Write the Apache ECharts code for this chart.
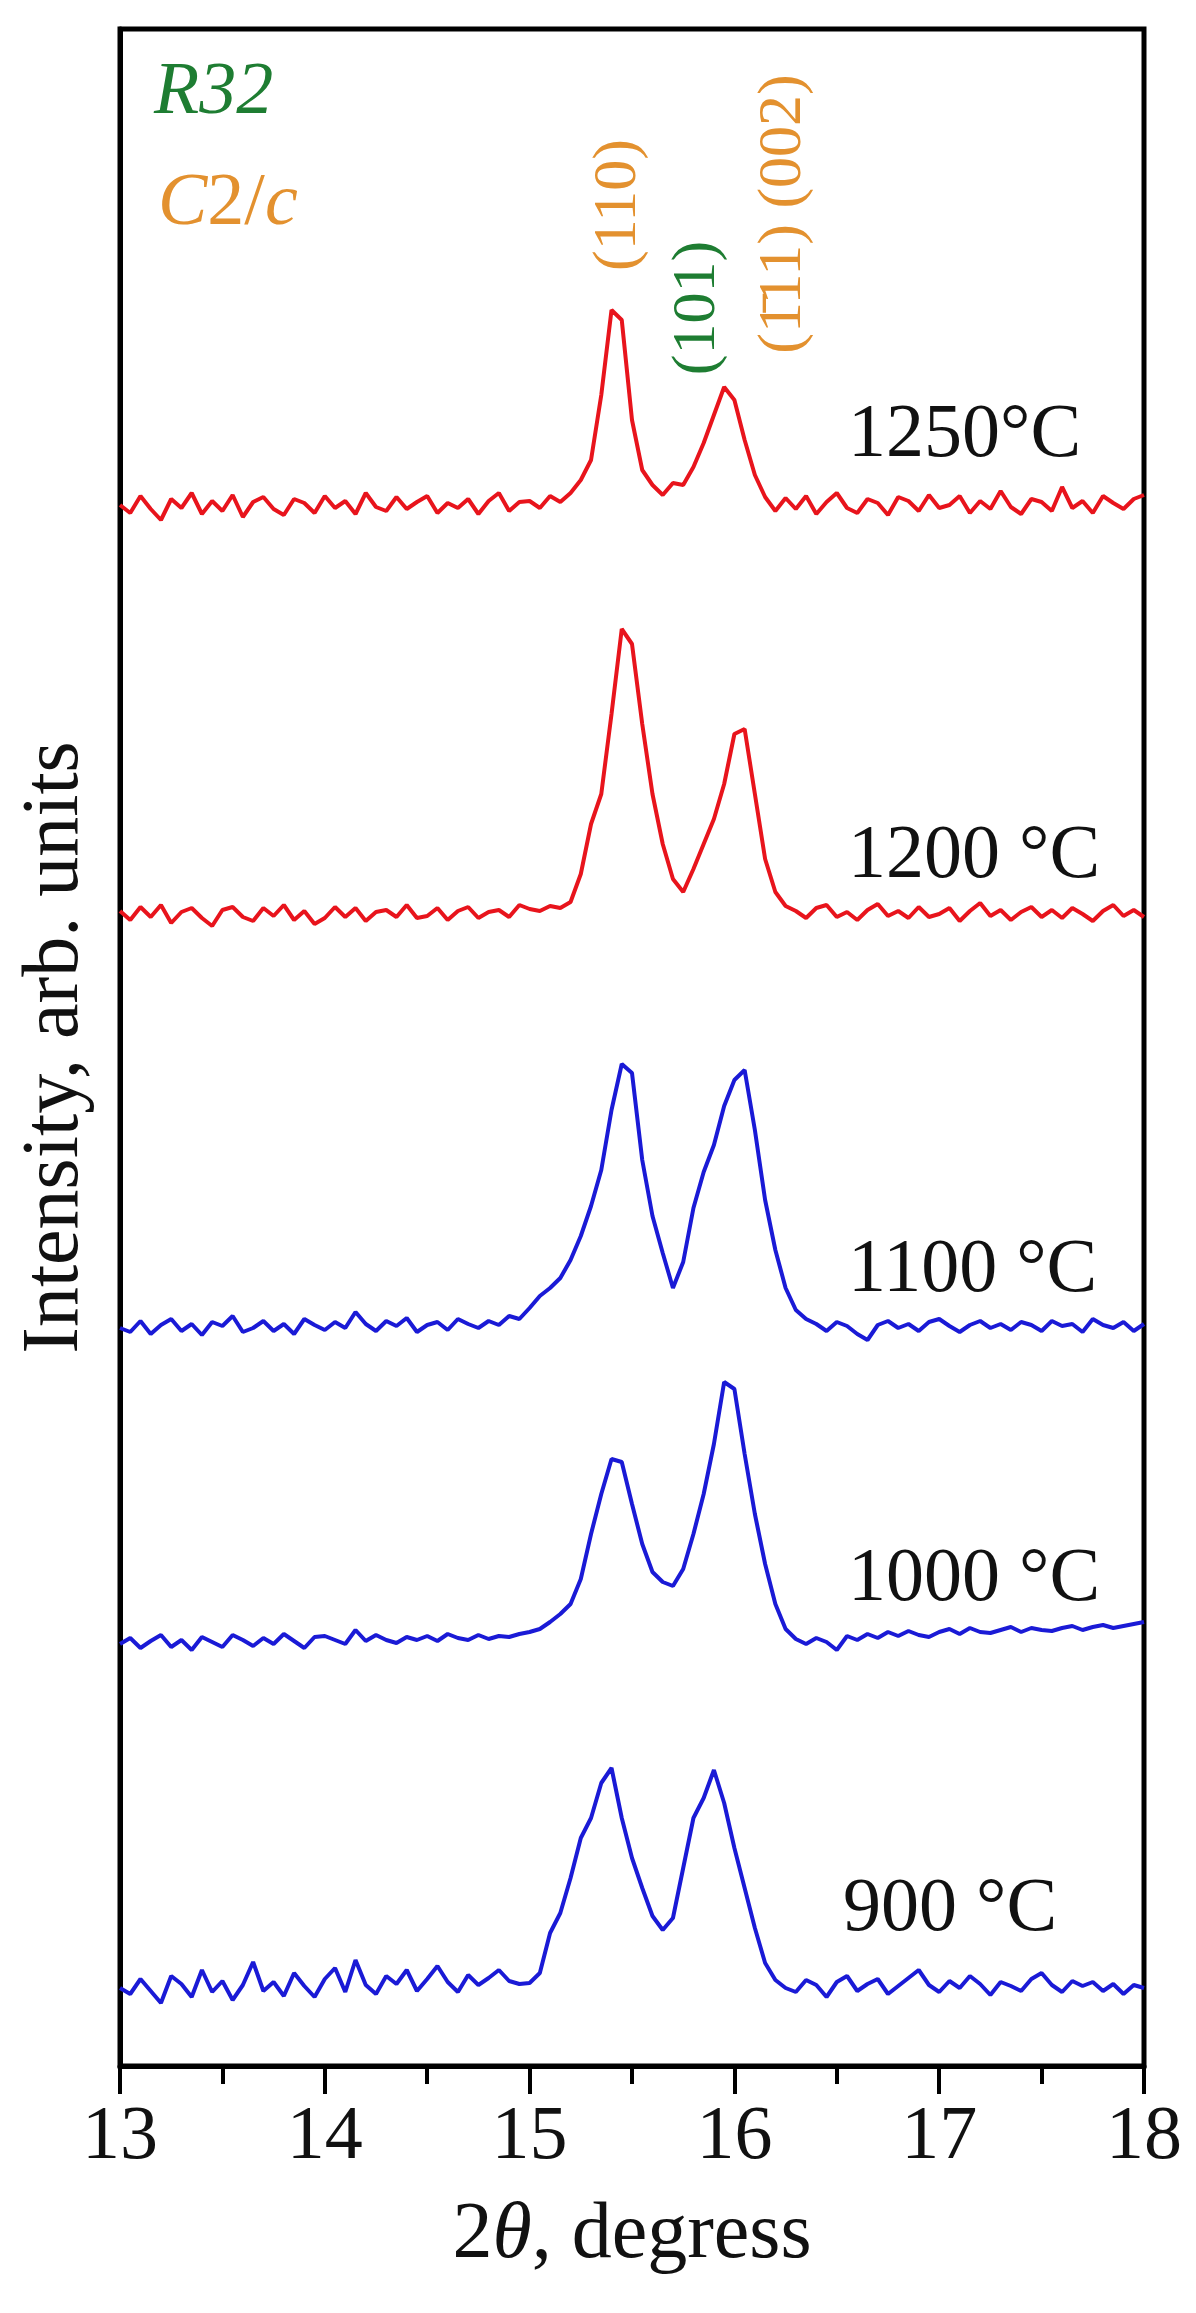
<!DOCTYPE html>
<html>
<head>
<meta charset="utf-8">
<script src="https://cdn.jsdelivr.net/npm/echarts@6/dist/echarts.min.js"></script>
<style>html,body{margin:0;padding:0;background:#fff}#chart{width:1196px;height:2313px}</style>
</head>
<body>
<div id="chart"></div>
<script>
// 2theta grid: 13.00 .. 18.00, step 0.05 (101 points)
var xStart = 13, xStep = 0.05;

// each curve: baseline (offset in plot units) + intensity
var base1250 = 1561, base1200 = 1152, base1100 = 738, base1000 = 422, base900 = 78;

var int1250 = [0,-8,9,-4,-15,6,-3,12,-9,4,-6,10,-12,3,8,-4,-10,6,2,-8,9,-3,4,-9,12,-2,-6,8,-4,3,9,-8,2,-3,6,-9,4,12,-6,3,
  4,-3,9,3,12,25,45,110,195,185,85,35,20,10,22,20,38,62,90,118,105,
  65,30,8,-6,7,
  -4,9,-9,3,12,-3,-8,6,2,-10,8,4,-6,10,-3,0,9,-8,4,-4,14,-2,-9,6,3,-6,18,-3,4,-8,9,2,-4,6,10];

var int1200 = [3,-6,7,-3,9,-9,2,6,-4,-12,4,7,-3,-7,6,-2,9,-6,3,-10,-4,7,-3,6,-7,2,4,-3,9,-4,-2,6,-6,3,7,-4,2,4,-3,9,
  5,3,8,6,12,40,90,120,200,285,270,190,120,70,35,22,45,70,95,130,180,
  185,120,55,22,8,
  3,-4,6,9,-3,2,-6,4,10,-2,3,-4,7,-3,0,6,-7,3,11,-2,4,-6,2,7,-3,4,-4,6,0,-7,3,9,-2,4,-3];

var int1100 = [0,-4,7,-6,3,9,-3,4,-7,6,2,12,-4,0,7,-3,4,-6,9,3,-2,6,0,16,4,-3,7,2,10,-4,3,6,-2,9,4,0,7,3,12,9,
  20,32,40,50,68,92,122,158,218,264,255,168,112,75,40,66,120,156,183,222,248,
  258,198,128,78,40,
  18,9,4,-3,6,2,-6,-12,3,7,0,4,-3,6,9,2,-4,3,7,0,4,-2,6,3,-3,7,2,4,-4,9,3,0,6,-3,4];

var int1000 = [0,6,-4,3,9,-3,4,-6,7,2,-3,9,4,-2,6,0,10,3,-4,7,8,4,0,14,3,9,4,1,7,4,8,3,10,6,4,9,5,8,7,10,
  12,15,22,30,40,65,110,150,185,182,140,100,72,62,58,75,110,150,200,262,255,
  190,130,80,40,15,
  5,0,6,2,-6,8,4,10,6,12,8,13,9,7,12,15,10,16,12,11,14,17,12,16,14,13,16,18,14,17,19,16,18,20,22];

var int900 = [0,-6,9,-3,-15,12,4,-9,18,-4,7,-12,3,26,-3,6,-8,15,2,-9,9,20,-4,28,3,-6,12,4,18,-3,9,22,6,-4,13,3,10,18,7,4,
  5,15,55,75,110,150,170,205,220,170,130,100,72,58,70,120,170,190,218,185,140,
  100,60,25,8,0,
  -4,8,3,-9,6,12,-3,4,9,-6,2,10,18,3,-4,7,0,12,4,-7,6,2,-3,9,15,3,-4,7,2,6,-3,4,-6,3,0];

var xTicks = [13, 14, 15, 16, 17, 18];

function build(base, arr) {
  return arr.map(function (v, i) {
    return [+(xStart + i * xStep).toFixed(2), base + v];
  });
}

var serif = '"Liberation Serif", "DejaVu Serif", serif';
var red = '#e8141c', blue = '#1a1ad6', orange = '#e3912f', green = '#1e7d32';

var chart = echarts.init(document.getElementById('chart'));

function curve(name, base, arr, color) {
  return {
    name: name, type: 'line', showSymbol: false, animation: false,
    lineStyle: {color: color, width: 4}, data: build(base, arr)
  };
}

function label(text, x, y) {
  return {type: 'text', x: x, y: y, style: {text: text, font: '76px ' + serif, fill: '#111', verticalAlign: 'middle'}};
}

function vlabel(text, x, y, color) {
  return {type: 'text', x: x, y: y, rotation: Math.PI / 2,
    style: {text: text, font: '62px ' + serif, fill: color, align: 'center', verticalAlign: 'middle'}};
}

var option = {
  backgroundColor: '#fff',
  animation: false,
  grid: {left: 120, right: 52, top: 29, bottom: 247, show: true, borderColor: '#000', borderWidth: 5},
  xAxis: {
    type: 'value', min: 13, max: 18, interval: 1,
    name: '{n|2}{i|θ}{n|, degress}', nameLocation: 'middle', nameGap: 130,
    nameTextStyle: {rich: {n: {fontFamily: serif, fontSize: 80, color: '#111'}, i: {fontFamily: serif, fontSize: 80, fontStyle: 'italic', color: '#111'}}},
    axisLine: {lineStyle: {color: '#000', width: 5}},
    axisTick: {inside: false, length: 28, lineStyle: {color: '#000', width: 4}},
    minorTick: {show: true, splitNumber: 2, length: 18, lineStyle: {color: '#000', width: 4}},
    axisLabel: {fontFamily: serif, fontSize: 76, color: '#111', margin: 34,
      formatter: function (v) { return xTicks.indexOf(v) >= 0 ? String(v) : ''; }},
    splitLine: {show: false}
  },
  yAxis: {
    type: 'value', min: 0, max: 2037,
    name: 'Intensity, arb. units', nameLocation: 'middle', nameGap: 24,
    nameTextStyle: {fontFamily: serif, fontSize: 80, color: '#111'},
    axisLine: {show: true, lineStyle: {color: '#000', width: 5}},
    axisTick: {show: false}, axisLabel: {show: false}, splitLine: {show: false}
  },
  series: [
    curve('1250', base1250, int1250, red),
    curve('1200', base1200, int1200, red),
    curve('1100', base1100, int1100, blue),
    curve('1000', base1000, int1000, blue),
    curve('900', base900, int900, blue)
  ],
  graphic: [
    {type: 'text', x: 154, y: 94, style: {text: 'R32', font: 'italic 74px ' + serif, fill: green, verticalAlign: 'middle'}},
    {type: 'text', x: 158, y: 205, style: {text: '{i|C}{n|2/}{i|c}', verticalAlign: 'middle',
      rich: {i: {font: 'italic 74px ' + serif, fill: orange}, n: {font: '74px ' + serif, fill: orange}}}},
    vlabel('(110)', 619, 205, orange),
    vlabel('(101)', 698, 308, green),
    vlabel('(1\u030411) (002)', 784, 214, orange),
    label('1250°C', 848, 436),
    label('1200 °C', 848, 857),
    label('1100 °C', 848, 1271),
    label('1000 °C', 848, 1580),
    label('900 °C', 843, 1910)
  ]
};

chart.setOption(option);
</script>
</body>
</html>
